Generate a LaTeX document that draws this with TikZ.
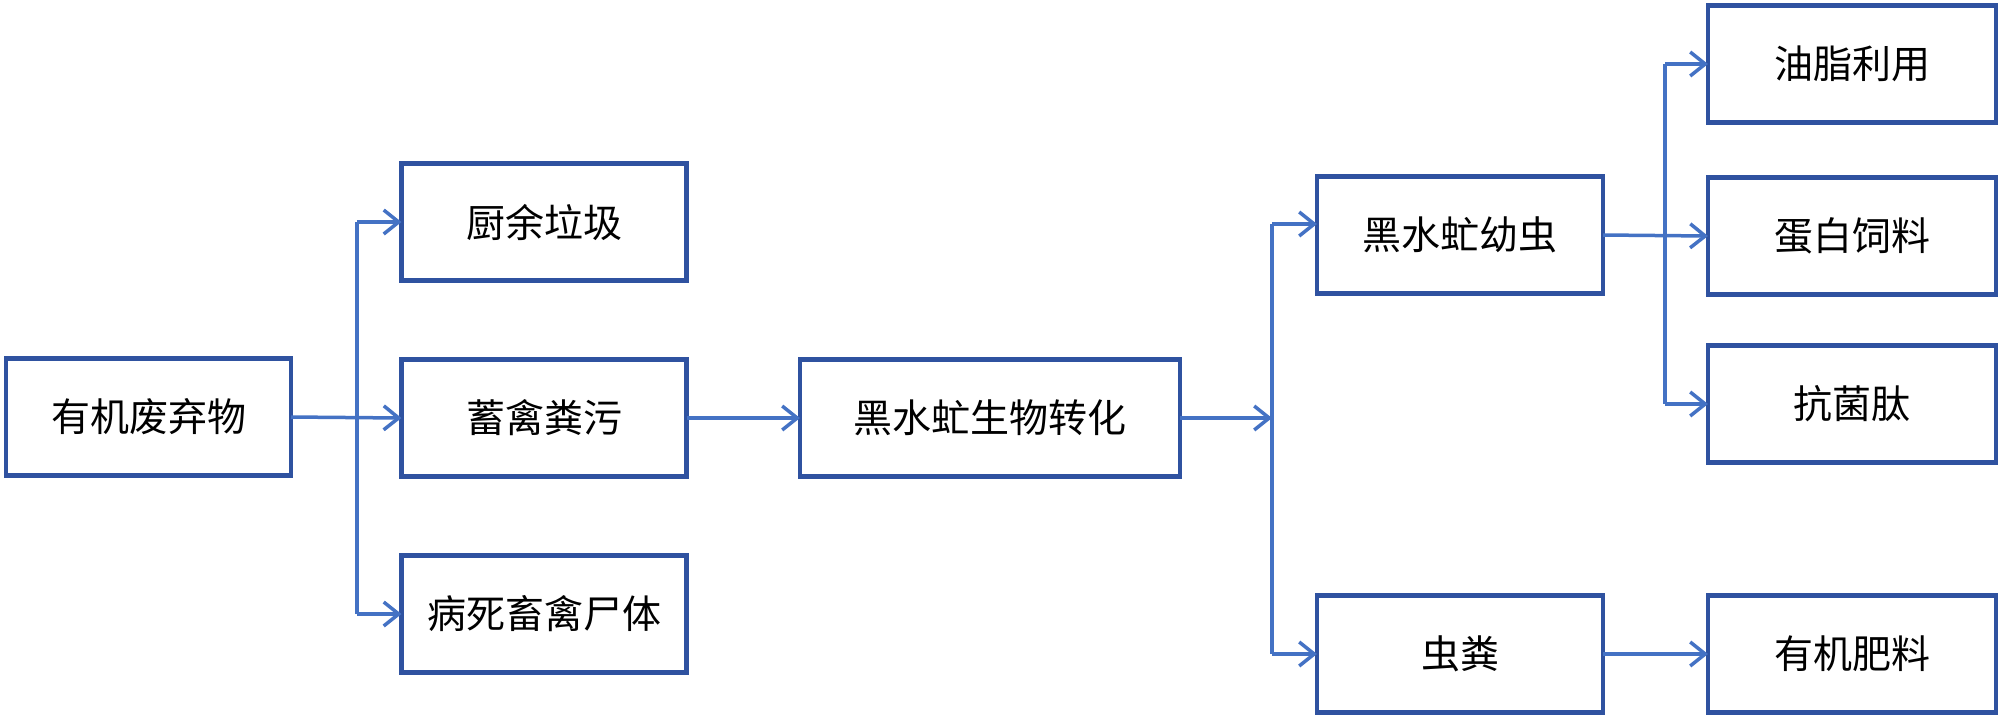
\documentclass[tikz,border=0pt]{standalone}
\usepackage{fontspec}
\newfontfamily\cjk{Noto Sans CJK SC}
\usetikzlibrary{arrows.meta}
\definecolor{boxblue}{HTML}{2F52A0}
\definecolor{arrblue}{HTML}{4472C4}
\tikzset{
  box/.style={draw=boxblue, line width=4.5pt, rectangle, inner sep=0pt, outer sep=0pt,
    minimum width=#1, minimum height=117pt, font=\cjk\fontsize{39}{42}\selectfont, text=black},
  box/.default=285pt,
  link/.style={draw=arrblue, line width=3.5pt},
  arr/.style={link, -{Straight Barb[length=15pt,width=24pt,line width=3.5pt]}},
}
\begin{document}
\begin{tikzpicture}[x=1pt,y=-1pt]
\useasboundingbox (0,0) rectangle (2000,721);
% nodes
\node[box] (a) at (148.5,417) {有机废弃物};
\node[box] (b1) at (544,222) {厨余垃圾};
\node[box] (b2) at (544,418) {蓄禽粪污};
\node[box] (b3) at (544,614) {病死畜禽尸体};
\node[box=380pt] (c) at (990,418) {黑水虻生物转化};
\node[box=286pt] (d1) at (1460,235) {黑水虻幼虫};
\node[box=286pt] (d2) at (1460,654) {虫粪};
\node[box=288pt] (e1) at (1852,64) {油脂利用};
\node[box=288pt] (e2) at (1852,236) {蛋白饲料};
\node[box=288pt] (e3) at (1852,404) {抗菌肽};
\node[box=288pt] (e4) at (1852,654) {有机肥料};
% junction coordinates
\coordinate (j1) at (357,417);
\coordinate (j2) at (1272,418);
\coordinate (j3) at (1665,236);
\coordinate (d1in) at ([yshift=11pt]d1.west);
% first group
\draw[arr] (a.east) -- (b2.west);
\draw[link] (j1 |- b1) -- (j1 |- b3);
\draw[arr] (j1 |- b1) -- (b1.west);
\draw[arr] (j1 |- b3) -- (b3.west);
% middle
\draw[arr] (b2.east) -- (c.west);
\draw[arr] (c.east) -- (j2);
\draw[link] (j2 |- d1in) -- (j2 |- d2);
\draw[arr] (j2 |- d1in) -- (d1in);
\draw[arr] (j2 |- d2) -- (d2.west);
% right group
\draw[arr] (d1.east) -- (e2.west);
\draw[link] (j3 |- e1) -- (j3 |- e3);
\draw[arr] (j3 |- e1) -- (e1.west);
\draw[arr] (j3 |- e3) -- (e3.west);
\draw[arr] (d2.east) -- (e4.west);
\end{tikzpicture}
\end{document}
